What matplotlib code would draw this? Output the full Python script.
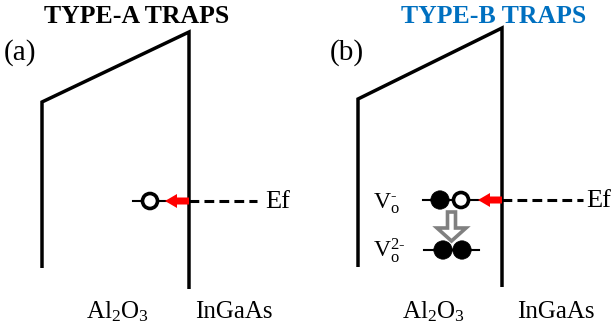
import matplotlib
matplotlib.use("Agg")
import matplotlib.pyplot as plt
from matplotlib.patches import Circle, Polygon

plt.rcParams['font.family'] = ['Liberation Serif', 'DejaVu Serif']
plt.rcParams['mathtext.fontset'] = 'custom'
plt.rcParams['mathtext.rm'] = 'Liberation Serif'
plt.rcParams['mathtext.it'] = 'Liberation Serif:italic'

# ---- diagram content (pixel coordinates, y downward) ----
titles = ["TYPE-A TRAPS", "TYPE-B TRAPS"]
title_colors = ["#000000", "#0070C0"]
title_x = [137, 494]
panel_labels = ["(a)", "(b)"]
panel_label_x = [4, 330]
oxide_label = "Al$_2$O$_3$"
semi_label = "InGaAs"
oxide_label_x = [117, 433]
semi_label_x = [234, 556]

# band outlines: left vertical bottom, left top, right top, right bottom
band_left_x = [42, 358]
band_right_x = [189, 502]
band_left_top_y = [102, 99]
band_left_bot_y = [268, 267]
band_right_top_y = [32, 28]
band_right_bot_y = [289, 287]

ef_y = [201, 200]
ef_dash_end = [257, 583]
ef_text_x = [265, 586]

vo_labels = [r"$\mathrm{V}_\mathrm{o}^{\text{-}}$", r"$\mathrm{V}_\mathrm{o}^{\text{2-}}$"]
vo_y = [209, 257]

fig = plt.figure(figsize=(6.13, 3.28), dpi=100)
ax = fig.add_axes([0, 0, 1, 1])
ax.set_xlim(0, 613)
ax.set_ylim(328, 0)
ax.axis('off')

for i in range(2):
    ax.text(title_x[i], 23, titles[i], ha='center', va='baseline',
            fontsize=18.5, fontweight='bold', color=title_colors[i])
    ax.text(panel_label_x[i], 60, panel_labels[i], ha='left', va='baseline',
            fontsize=21)
    ax.text(oxide_label_x[i], 318, oxide_label, ha='center', va='baseline',
            fontsize=18)
    ax.text(semi_label_x[i], 318, semi_label, ha='center', va='baseline',
            fontsize=18)
    xs = [band_left_x[i], band_left_x[i], band_right_x[i], band_right_x[i]]
    ys = [band_left_bot_y[i], band_left_top_y[i], band_right_top_y[i], band_right_bot_y[i]]
    ax.plot(xs, ys, color='black', lw=2.5, solid_joinstyle='miter',
            solid_capstyle='butt')
    # Fermi level dashed
    ax.plot([band_right_x[i], ef_dash_end[i]], [ef_y[i], ef_y[i]], color='black',
            lw=2.2, linestyle=(0, (3.2, 1.7)))
    ax.text(ef_text_x[i], ef_y[i] + 7, "Ef", ha='left', va='baseline', fontsize=19)
    # red arrow toward trap
    xr = band_right_x[i]
    y0 = ef_y[i]
    tip = xr - 24
    ax.add_patch(Polygon([(xr, y0 - 3.5), (tip + 12, y0 - 3.5), (tip + 12, y0 - 7),
                          (tip, y0), (tip + 12, y0 + 7), (tip + 12, y0 + 3.5),
                          (xr, y0 + 3.5)], closed=True, facecolor='#FF0000',
                         edgecolor='none', zorder=3))

# panel (a) trap
ax.plot([133, 167], [201, 201], color='black', lw=1.5, zorder=2)
ax.add_patch(Circle((150, 201), 7.5, facecolor='white', edgecolor='black', lw=2.6, zorder=4))

# panel (b) traps
ax.plot([423, 481], [200, 200], color='black', lw=1.5, zorder=2)
ax.add_patch(Circle((440, 200), 9.2, facecolor='black', edgecolor='black', lw=0.5, zorder=4))
ax.add_patch(Circle((461, 200), 7.5, facecolor='white', edgecolor='black', lw=2.6, zorder=4))
ax.plot([424, 479], [250, 250], color='black', lw=1.5, zorder=2)
ax.add_patch(Circle((443, 250), 9.2, facecolor='black', edgecolor='black', lw=0.5, zorder=4))
ax.add_patch(Circle((462, 250), 9.2, facecolor='black', edgecolor='black', lw=0.5, zorder=4))

# gray hollow arrow
ax.add_patch(Polygon([(447.5, 212), (455.5, 212), (455.5, 228), (466, 228),
                      (451.5, 241), (437, 228), (447.5, 228)], closed=True,
                     facecolor='white', edgecolor='#808080', lw=2.6,
                     joinstyle='miter', zorder=3))

for lab, yb in zip(vo_labels, vo_y):
    ax.text(373, yb, lab, ha='left', va='baseline', fontsize=17)

fig.savefig("out.png", dpi=100)
